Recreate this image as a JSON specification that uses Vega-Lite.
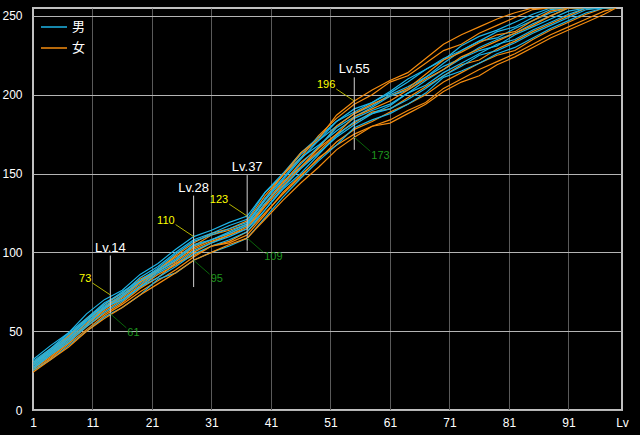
{
"$schema": "https://vega.github.io/schema/vega-lite/v6.json",
"width": 589, "height": 402,
"autosize": {"type": "none"},
"padding": {"left": 33, "top": 8, "right": 18, "bottom": 25},
"background": "#000000",
"config": {"view": {"stroke": "#c0c0c0", "strokeWidth": 2}},
"datasets": {
"ann": [
{"lv":14,"lo":50,"hi":98,"max":73,"min":61,"name":"Lv.14"},
{"lv":28,"lo":78,"hi":136,"max":110,"min":95,"name":"Lv.28"},
{"lv":37,"lo":101,"hi":149,"max":123,"min":109,"name":"Lv.37"},
{"lv":55,"lo":165,"hi":211,"max":196,"min":173,"name":"Lv.55"}
],
"lines": [
{"g":"男","s":"c1","lv":1,"v":32},{"g":"男","s":"c1","lv":4,"v":41},{"g":"男","s":"c1","lv":7,"v":49},{"g":"男","s":"c1","lv":10,"v":61},{"g":"男","s":"c1","lv":13,"v":70},{"g":"男","s":"c1","lv":16,"v":76},{"g":"男","s":"c1","lv":19,"v":86},{"g":"男","s":"c1","lv":22,"v":93},{"g":"男","s":"c1","lv":25,"v":102},{"g":"男","s":"c1","lv":28,"v":110},{"g":"男","s":"c1","lv":31,"v":114},{"g":"男","s":"c1","lv":34,"v":119},{"g":"男","s":"c1","lv":37,"v":123},{"g":"男","s":"c1","lv":40,"v":138},{"g":"男","s":"c1","lv":43,"v":149},{"g":"男","s":"c1","lv":46,"v":162},{"g":"男","s":"c1","lv":49,"v":171},{"g":"男","s":"c1","lv":52,"v":180},{"g":"男","s":"c1","lv":55,"v":188},{"g":"男","s":"c1","lv":58,"v":193},{"g":"男","s":"c1","lv":61,"v":200},{"g":"男","s":"c1","lv":64,"v":205},{"g":"男","s":"c1","lv":67,"v":211},{"g":"男","s":"c1","lv":70,"v":220},{"g":"男","s":"c1","lv":73,"v":228},{"g":"男","s":"c1","lv":76,"v":234},{"g":"男","s":"c1","lv":79,"v":236},{"g":"男","s":"c1","lv":82,"v":242},{"g":"男","s":"c1","lv":85,"v":247},{"g":"男","s":"c1","lv":88,"v":252},{"g":"男","s":"c1","lv":91,"v":255},{"g":"男","s":"c1","lv":99,"v":255},
{"g":"女","s":"o1","lv":1,"v":30},{"g":"女","s":"o1","lv":4,"v":39},{"g":"女","s":"o1","lv":7,"v":47},{"g":"女","s":"o1","lv":10,"v":58},{"g":"女","s":"o1","lv":13,"v":67},{"g":"女","s":"o1","lv":16,"v":74},{"g":"女","s":"o1","lv":19,"v":83},{"g":"女","s":"o1","lv":22,"v":89},{"g":"女","s":"o1","lv":25,"v":98},{"g":"女","s":"o1","lv":28,"v":106},{"g":"女","s":"o1","lv":31,"v":112},{"g":"女","s":"o1","lv":34,"v":115},{"g":"女","s":"o1","lv":37,"v":120},{"g":"女","s":"o1","lv":40,"v":136},{"g":"女","s":"o1","lv":43,"v":149},{"g":"女","s":"o1","lv":46,"v":160},{"g":"女","s":"o1","lv":49,"v":174},{"g":"女","s":"o1","lv":52,"v":185},{"g":"女","s":"o1","lv":55,"v":194},{"g":"女","s":"o1","lv":58,"v":200},{"g":"女","s":"o1","lv":61,"v":208},{"g":"女","s":"o1","lv":64,"v":212},{"g":"女","s":"o1","lv":67,"v":220},{"g":"女","s":"o1","lv":70,"v":228},{"g":"女","s":"o1","lv":73,"v":232},{"g":"女","s":"o1","lv":76,"v":239},{"g":"女","s":"o1","lv":79,"v":244},{"g":"女","s":"o1","lv":82,"v":249},{"g":"女","s":"o1","lv":85,"v":254},{"g":"女","s":"o1","lv":88,"v":255},{"g":"女","s":"o1","lv":99,"v":255},
{"g":"男","s":"c2","lv":1,"v":31},{"g":"男","s":"c2","lv":4,"v":39},{"g":"男","s":"c2","lv":7,"v":49},{"g":"男","s":"c2","lv":10,"v":58},{"g":"男","s":"c2","lv":13,"v":68},{"g":"男","s":"c2","lv":16,"v":74},{"g":"男","s":"c2","lv":19,"v":84},{"g":"男","s":"c2","lv":22,"v":91},{"g":"男","s":"c2","lv":25,"v":100},{"g":"男","s":"c2","lv":28,"v":108},{"g":"男","s":"c2","lv":31,"v":112},{"g":"男","s":"c2","lv":34,"v":117},{"g":"男","s":"c2","lv":37,"v":121},{"g":"男","s":"c2","lv":40,"v":138},{"g":"男","s":"c2","lv":43,"v":150},{"g":"男","s":"c2","lv":46,"v":163},{"g":"男","s":"c2","lv":49,"v":173},{"g":"男","s":"c2","lv":52,"v":183},{"g":"男","s":"c2","lv":55,"v":191},{"g":"男","s":"c2","lv":58,"v":195},{"g":"男","s":"c2","lv":61,"v":202},{"g":"男","s":"c2","lv":64,"v":210},{"g":"男","s":"c2","lv":67,"v":216},{"g":"男","s":"c2","lv":70,"v":222},{"g":"男","s":"c2","lv":73,"v":231},{"g":"男","s":"c2","lv":76,"v":237},{"g":"男","s":"c2","lv":79,"v":241},{"g":"男","s":"c2","lv":82,"v":246},{"g":"男","s":"c2","lv":85,"v":251},{"g":"男","s":"c2","lv":88,"v":255},{"g":"男","s":"c2","lv":99,"v":255},
{"g":"女","s":"o2","lv":1,"v":30},{"g":"女","s":"o2","lv":4,"v":37},{"g":"女","s":"o2","lv":7,"v":47},{"g":"女","s":"o2","lv":10,"v":57},{"g":"女","s":"o2","lv":13,"v":65},{"g":"女","s":"o2","lv":16,"v":73},{"g":"女","s":"o2","lv":19,"v":81},{"g":"女","s":"o2","lv":22,"v":89},{"g":"女","s":"o2","lv":25,"v":97},{"g":"女","s":"o2","lv":28,"v":104},{"g":"女","s":"o2","lv":31,"v":111},{"g":"女","s":"o2","lv":34,"v":114},{"g":"女","s":"o2","lv":37,"v":118},{"g":"女","s":"o2","lv":40,"v":134},{"g":"女","s":"o2","lv":43,"v":149},{"g":"女","s":"o2","lv":46,"v":163},{"g":"女","s":"o2","lv":49,"v":172},{"g":"女","s":"o2","lv":52,"v":187},{"g":"女","s":"o2","lv":55,"v":196},{"g":"女","s":"o2","lv":58,"v":203},{"g":"女","s":"o2","lv":61,"v":209},{"g":"女","s":"o2","lv":64,"v":214},{"g":"女","s":"o2","lv":67,"v":223},{"g":"女","s":"o2","lv":70,"v":232},{"g":"女","s":"o2","lv":73,"v":238},{"g":"女","s":"o2","lv":76,"v":243},{"g":"女","s":"o2","lv":79,"v":248},{"g":"女","s":"o2","lv":82,"v":252},{"g":"女","s":"o2","lv":85,"v":255},{"g":"女","s":"o2","lv":99,"v":255},
{"g":"男","s":"c3","lv":1,"v":30},{"g":"男","s":"c3","lv":4,"v":38},{"g":"男","s":"c3","lv":7,"v":48},{"g":"男","s":"c3","lv":10,"v":57},{"g":"男","s":"c3","lv":13,"v":67},{"g":"男","s":"c3","lv":16,"v":75},{"g":"男","s":"c3","lv":19,"v":82},{"g":"男","s":"c3","lv":22,"v":90},{"g":"男","s":"c3","lv":25,"v":99},{"g":"男","s":"c3","lv":28,"v":107},{"g":"男","s":"c3","lv":31,"v":111},{"g":"男","s":"c3","lv":34,"v":115},{"g":"男","s":"c3","lv":37,"v":119},{"g":"男","s":"c3","lv":40,"v":134},{"g":"男","s":"c3","lv":43,"v":147},{"g":"男","s":"c3","lv":46,"v":160},{"g":"男","s":"c3","lv":49,"v":168},{"g":"男","s":"c3","lv":52,"v":177},{"g":"男","s":"c3","lv":55,"v":185},{"g":"男","s":"c3","lv":58,"v":190},{"g":"男","s":"c3","lv":61,"v":194},{"g":"男","s":"c3","lv":64,"v":201},{"g":"男","s":"c3","lv":67,"v":209},{"g":"男","s":"c3","lv":70,"v":216},{"g":"男","s":"c3","lv":73,"v":223},{"g":"男","s":"c3","lv":76,"v":228},{"g":"男","s":"c3","lv":79,"v":231},{"g":"男","s":"c3","lv":82,"v":238},{"g":"男","s":"c3","lv":85,"v":243},{"g":"男","s":"c3","lv":88,"v":248},{"g":"男","s":"c3","lv":91,"v":253},{"g":"男","s":"c3","lv":94,"v":255},{"g":"男","s":"c3","lv":99,"v":255},
{"g":"女","s":"o3","lv":1,"v":29},{"g":"女","s":"o3","lv":4,"v":37},{"g":"女","s":"o3","lv":7,"v":46},{"g":"女","s":"o3","lv":10,"v":55},{"g":"女","s":"o3","lv":13,"v":65},{"g":"女","s":"o3","lv":16,"v":72},{"g":"女","s":"o3","lv":19,"v":81},{"g":"女","s":"o3","lv":22,"v":88},{"g":"女","s":"o3","lv":25,"v":95},{"g":"女","s":"o3","lv":28,"v":103},{"g":"女","s":"o3","lv":31,"v":108},{"g":"女","s":"o3","lv":34,"v":112},{"g":"女","s":"o3","lv":37,"v":117},{"g":"女","s":"o3","lv":40,"v":131},{"g":"女","s":"o3","lv":43,"v":145},{"g":"女","s":"o3","lv":46,"v":154},{"g":"女","s":"o3","lv":49,"v":164},{"g":"女","s":"o3","lv":52,"v":175},{"g":"女","s":"o3","lv":55,"v":182},{"g":"女","s":"o3","lv":58,"v":189},{"g":"女","s":"o3","lv":61,"v":191},{"g":"女","s":"o3","lv":64,"v":198},{"g":"女","s":"o3","lv":67,"v":205},{"g":"女","s":"o3","lv":70,"v":212},{"g":"女","s":"o3","lv":73,"v":219},{"g":"女","s":"o3","lv":76,"v":222},{"g":"女","s":"o3","lv":79,"v":229},{"g":"女","s":"o3","lv":82,"v":234},{"g":"女","s":"o3","lv":85,"v":240},{"g":"女","s":"o3","lv":88,"v":245},{"g":"女","s":"o3","lv":91,"v":250},{"g":"女","s":"o3","lv":94,"v":255},{"g":"女","s":"o3","lv":99,"v":255},
{"g":"男","s":"c4","lv":1,"v":29},{"g":"男","s":"c4","lv":4,"v":38},{"g":"男","s":"c4","lv":7,"v":46},{"g":"男","s":"c4","lv":10,"v":57},{"g":"男","s":"c4","lv":13,"v":66},{"g":"男","s":"c4","lv":16,"v":73},{"g":"男","s":"c4","lv":19,"v":82},{"g":"男","s":"c4","lv":22,"v":89},{"g":"男","s":"c4","lv":25,"v":96},{"g":"男","s":"c4","lv":28,"v":105},{"g":"男","s":"c4","lv":31,"v":108},{"g":"男","s":"c4","lv":34,"v":113},{"g":"男","s":"c4","lv":37,"v":118},{"g":"男","s":"c4","lv":40,"v":133},{"g":"男","s":"c4","lv":43,"v":146},{"g":"男","s":"c4","lv":46,"v":159},{"g":"男","s":"c4","lv":49,"v":171},{"g":"男","s":"c4","lv":52,"v":183},{"g":"男","s":"c4","lv":55,"v":189},{"g":"男","s":"c4","lv":58,"v":195},{"g":"男","s":"c4","lv":61,"v":201},{"g":"男","s":"c4","lv":64,"v":208},{"g":"男","s":"c4","lv":67,"v":216},{"g":"男","s":"c4","lv":70,"v":223},{"g":"男","s":"c4","lv":73,"v":228},{"g":"男","s":"c4","lv":76,"v":234},{"g":"男","s":"c4","lv":79,"v":240},{"g":"男","s":"c4","lv":82,"v":243},{"g":"男","s":"c4","lv":85,"v":249},{"g":"男","s":"c4","lv":88,"v":254},{"g":"男","s":"c4","lv":91,"v":255},{"g":"男","s":"c4","lv":99,"v":255},
{"g":"女","s":"o4","lv":1,"v":28},{"g":"女","s":"o4","lv":4,"v":36},{"g":"女","s":"o4","lv":7,"v":45},{"g":"女","s":"o4","lv":10,"v":54},{"g":"女","s":"o4","lv":13,"v":64},{"g":"女","s":"o4","lv":16,"v":71},{"g":"女","s":"o4","lv":19,"v":79},{"g":"女","s":"o4","lv":22,"v":88},{"g":"女","s":"o4","lv":25,"v":94},{"g":"女","s":"o4","lv":28,"v":102},{"g":"女","s":"o4","lv":31,"v":107},{"g":"女","s":"o4","lv":34,"v":111},{"g":"女","s":"o4","lv":37,"v":116},{"g":"女","s":"o4","lv":40,"v":130},{"g":"女","s":"o4","lv":43,"v":144},{"g":"女","s":"o4","lv":46,"v":157},{"g":"女","s":"o4","lv":49,"v":166},{"g":"女","s":"o4","lv":52,"v":180},{"g":"女","s":"o4","lv":55,"v":188},{"g":"女","s":"o4","lv":58,"v":194},{"g":"女","s":"o4","lv":61,"v":199},{"g":"女","s":"o4","lv":64,"v":204},{"g":"女","s":"o4","lv":67,"v":213},{"g":"女","s":"o4","lv":70,"v":222},{"g":"女","s":"o4","lv":73,"v":227},{"g":"女","s":"o4","lv":76,"v":233},{"g":"女","s":"o4","lv":79,"v":238},{"g":"女","s":"o4","lv":82,"v":240},{"g":"女","s":"o4","lv":85,"v":247},{"g":"女","s":"o4","lv":88,"v":253},{"g":"女","s":"o4","lv":91,"v":255},{"g":"女","s":"o4","lv":99,"v":255},
{"g":"男","s":"c5","lv":1,"v":28},{"g":"男","s":"c5","lv":4,"v":37},{"g":"男","s":"c5","lv":7,"v":45},{"g":"男","s":"c5","lv":10,"v":56},{"g":"男","s":"c5","lv":13,"v":64},{"g":"男","s":"c5","lv":16,"v":72},{"g":"男","s":"c5","lv":19,"v":80},{"g":"男","s":"c5","lv":22,"v":88},{"g":"男","s":"c5","lv":25,"v":95},{"g":"男","s":"c5","lv":28,"v":104},{"g":"男","s":"c5","lv":31,"v":108},{"g":"男","s":"c5","lv":34,"v":112},{"g":"男","s":"c5","lv":37,"v":117},{"g":"男","s":"c5","lv":40,"v":131},{"g":"男","s":"c5","lv":43,"v":143},{"g":"男","s":"c5","lv":46,"v":156},{"g":"男","s":"c5","lv":49,"v":167},{"g":"男","s":"c5","lv":52,"v":179},{"g":"男","s":"c5","lv":55,"v":186},{"g":"男","s":"c5","lv":58,"v":192},{"g":"男","s":"c5","lv":61,"v":199},{"g":"男","s":"c5","lv":64,"v":203},{"g":"男","s":"c5","lv":67,"v":211},{"g":"男","s":"c5","lv":70,"v":218},{"g":"男","s":"c5","lv":73,"v":223},{"g":"男","s":"c5","lv":76,"v":230},{"g":"男","s":"c5","lv":79,"v":235},{"g":"男","s":"c5","lv":82,"v":239},{"g":"男","s":"c5","lv":85,"v":245},{"g":"男","s":"c5","lv":88,"v":250},{"g":"男","s":"c5","lv":91,"v":255},{"g":"男","s":"c5","lv":99,"v":255},
{"g":"女","s":"o5","lv":1,"v":27},{"g":"女","s":"o5","lv":4,"v":35},{"g":"女","s":"o5","lv":7,"v":44},{"g":"女","s":"o5","lv":10,"v":54},{"g":"女","s":"o5","lv":13,"v":63},{"g":"女","s":"o5","lv":16,"v":70},{"g":"女","s":"o5","lv":19,"v":78},{"g":"女","s":"o5","lv":22,"v":86},{"g":"女","s":"o5","lv":25,"v":92},{"g":"女","s":"o5","lv":28,"v":100},{"g":"女","s":"o5","lv":31,"v":106},{"g":"女","s":"o5","lv":34,"v":111},{"g":"女","s":"o5","lv":37,"v":115},{"g":"女","s":"o5","lv":40,"v":129},{"g":"女","s":"o5","lv":43,"v":142},{"g":"女","s":"o5","lv":46,"v":154},{"g":"女","s":"o5","lv":49,"v":166},{"g":"女","s":"o5","lv":52,"v":175},{"g":"女","s":"o5","lv":55,"v":186},{"g":"女","s":"o5","lv":58,"v":191},{"g":"女","s":"o5","lv":61,"v":196},{"g":"女","s":"o5","lv":64,"v":203},{"g":"女","s":"o5","lv":67,"v":210},{"g":"女","s":"o5","lv":70,"v":216},{"g":"女","s":"o5","lv":73,"v":224},{"g":"女","s":"o5","lv":76,"v":229},{"g":"女","s":"o5","lv":79,"v":234},{"g":"女","s":"o5","lv":82,"v":239},{"g":"女","s":"o5","lv":85,"v":244},{"g":"女","s":"o5","lv":88,"v":250},{"g":"女","s":"o5","lv":91,"v":255},{"g":"女","s":"o5","lv":99,"v":255},
{"g":"男","s":"c6","lv":1,"v":27},{"g":"男","s":"c6","lv":4,"v":36},{"g":"男","s":"c6","lv":7,"v":44},{"g":"男","s":"c6","lv":10,"v":54},{"g":"男","s":"c6","lv":13,"v":65},{"g":"男","s":"c6","lv":16,"v":70},{"g":"男","s":"c6","lv":19,"v":78},{"g":"男","s":"c6","lv":22,"v":87},{"g":"男","s":"c6","lv":25,"v":93},{"g":"男","s":"c6","lv":28,"v":101},{"g":"男","s":"c6","lv":31,"v":106},{"g":"男","s":"c6","lv":34,"v":110},{"g":"男","s":"c6","lv":37,"v":115},{"g":"男","s":"c6","lv":40,"v":127},{"g":"男","s":"c6","lv":43,"v":141},{"g":"男","s":"c6","lv":46,"v":153},{"g":"男","s":"c6","lv":49,"v":163},{"g":"男","s":"c6","lv":52,"v":173},{"g":"男","s":"c6","lv":55,"v":181},{"g":"男","s":"c6","lv":58,"v":188},{"g":"男","s":"c6","lv":61,"v":191},{"g":"男","s":"c6","lv":64,"v":197},{"g":"男","s":"c6","lv":67,"v":204},{"g":"男","s":"c6","lv":70,"v":212},{"g":"男","s":"c6","lv":73,"v":218},{"g":"男","s":"c6","lv":76,"v":225},{"g":"男","s":"c6","lv":79,"v":228},{"g":"男","s":"c6","lv":82,"v":233},{"g":"男","s":"c6","lv":85,"v":239},{"g":"男","s":"c6","lv":88,"v":244},{"g":"男","s":"c6","lv":91,"v":249},{"g":"男","s":"c6","lv":94,"v":254},{"g":"男","s":"c6","lv":97,"v":255},{"g":"男","s":"c6","lv":99,"v":255},
{"g":"女","s":"o6","lv":1,"v":26},{"g":"女","s":"o6","lv":4,"v":34},{"g":"女","s":"o6","lv":7,"v":43},{"g":"女","s":"o6","lv":10,"v":53},{"g":"女","s":"o6","lv":13,"v":61},{"g":"女","s":"o6","lv":16,"v":68},{"g":"女","s":"o6","lv":19,"v":77},{"g":"女","s":"o6","lv":22,"v":84},{"g":"女","s":"o6","lv":25,"v":93},{"g":"女","s":"o6","lv":28,"v":98},{"g":"女","s":"o6","lv":31,"v":104},{"g":"女","s":"o6","lv":34,"v":107},{"g":"女","s":"o6","lv":37,"v":113},{"g":"女","s":"o6","lv":40,"v":125},{"g":"女","s":"o6","lv":43,"v":137},{"g":"女","s":"o6","lv":46,"v":148},{"g":"女","s":"o6","lv":49,"v":160},{"g":"女","s":"o6","lv":52,"v":168},{"g":"女","s":"o6","lv":55,"v":175},{"g":"女","s":"o6","lv":58,"v":180},{"g":"女","s":"o6","lv":61,"v":184},{"g":"女","s":"o6","lv":64,"v":190},{"g":"女","s":"o6","lv":67,"v":195},{"g":"女","s":"o6","lv":70,"v":204},{"g":"女","s":"o6","lv":73,"v":210},{"g":"女","s":"o6","lv":76,"v":216},{"g":"女","s":"o6","lv":79,"v":221},{"g":"女","s":"o6","lv":82,"v":226},{"g":"女","s":"o6","lv":85,"v":232},{"g":"女","s":"o6","lv":88,"v":238},{"g":"女","s":"o6","lv":91,"v":243},{"g":"女","s":"o6","lv":94,"v":248},{"g":"女","s":"o6","lv":97,"v":253},{"g":"女","s":"o6","lv":99,"v":255},
{"g":"男","s":"c7","lv":1,"v":26},{"g":"男","s":"c7","lv":4,"v":35},{"g":"男","s":"c7","lv":7,"v":43},{"g":"男","s":"c7","lv":10,"v":53},{"g":"男","s":"c7","lv":13,"v":62},{"g":"男","s":"c7","lv":16,"v":69},{"g":"男","s":"c7","lv":19,"v":78},{"g":"男","s":"c7","lv":22,"v":84},{"g":"男","s":"c7","lv":25,"v":91},{"g":"男","s":"c7","lv":28,"v":99},{"g":"男","s":"c7","lv":31,"v":104},{"g":"男","s":"c7","lv":34,"v":108},{"g":"男","s":"c7","lv":37,"v":113},{"g":"男","s":"c7","lv":40,"v":127},{"g":"男","s":"c7","lv":43,"v":140},{"g":"男","s":"c7","lv":46,"v":150},{"g":"男","s":"c7","lv":49,"v":162},{"g":"男","s":"c7","lv":52,"v":174},{"g":"男","s":"c7","lv":55,"v":183},{"g":"男","s":"c7","lv":58,"v":188},{"g":"男","s":"c7","lv":61,"v":193},{"g":"男","s":"c7","lv":64,"v":201},{"g":"男","s":"c7","lv":67,"v":206},{"g":"男","s":"c7","lv":70,"v":214},{"g":"男","s":"c7","lv":73,"v":220},{"g":"男","s":"c7","lv":76,"v":226},{"g":"男","s":"c7","lv":79,"v":232},{"g":"男","s":"c7","lv":82,"v":235},{"g":"男","s":"c7","lv":85,"v":241},{"g":"男","s":"c7","lv":88,"v":246},{"g":"男","s":"c7","lv":91,"v":251},{"g":"男","s":"c7","lv":94,"v":255},{"g":"男","s":"c7","lv":99,"v":255},
{"g":"女","s":"o7","lv":1,"v":25},{"g":"女","s":"o7","lv":4,"v":33},{"g":"女","s":"o7","lv":7,"v":42},{"g":"女","s":"o7","lv":10,"v":51},{"g":"女","s":"o7","lv":13,"v":60},{"g":"女","s":"o7","lv":16,"v":67},{"g":"女","s":"o7","lv":19,"v":75},{"g":"女","s":"o7","lv":22,"v":82},{"g":"女","s":"o7","lv":25,"v":89},{"g":"女","s":"o7","lv":28,"v":97},{"g":"女","s":"o7","lv":31,"v":104},{"g":"女","s":"o7","lv":34,"v":106},{"g":"女","s":"o7","lv":37,"v":111},{"g":"女","s":"o7","lv":40,"v":124},{"g":"女","s":"o7","lv":43,"v":138},{"g":"女","s":"o7","lv":46,"v":149},{"g":"女","s":"o7","lv":49,"v":159},{"g":"女","s":"o7","lv":52,"v":170},{"g":"女","s":"o7","lv":55,"v":178},{"g":"女","s":"o7","lv":58,"v":183},{"g":"女","s":"o7","lv":61,"v":189},{"g":"女","s":"o7","lv":64,"v":194},{"g":"女","s":"o7","lv":67,"v":200},{"g":"女","s":"o7","lv":70,"v":208},{"g":"女","s":"o7","lv":73,"v":214},{"g":"女","s":"o7","lv":76,"v":220},{"g":"女","s":"o7","lv":79,"v":225},{"g":"女","s":"o7","lv":82,"v":228},{"g":"女","s":"o7","lv":85,"v":235},{"g":"女","s":"o7","lv":88,"v":241},{"g":"女","s":"o7","lv":91,"v":246},{"g":"女","s":"o7","lv":94,"v":251},{"g":"女","s":"o7","lv":97,"v":255},{"g":"女","s":"o7","lv":99,"v":255},
{"g":"男","s":"c8","lv":1,"v":25},{"g":"男","s":"c8","lv":4,"v":32},{"g":"男","s":"c8","lv":7,"v":41},{"g":"男","s":"c8","lv":10,"v":50},{"g":"男","s":"c8","lv":13,"v":59},{"g":"男","s":"c8","lv":16,"v":65},{"g":"男","s":"c8","lv":19,"v":73},{"g":"男","s":"c8","lv":22,"v":83},{"g":"男","s":"c8","lv":25,"v":87},{"g":"男","s":"c8","lv":28,"v":95},{"g":"男","s":"c8","lv":31,"v":100},{"g":"男","s":"c8","lv":34,"v":104},{"g":"男","s":"c8","lv":37,"v":109},{"g":"男","s":"c8","lv":40,"v":122},{"g":"男","s":"c8","lv":43,"v":135},{"g":"男","s":"c8","lv":46,"v":147},{"g":"男","s":"c8","lv":49,"v":158},{"g":"男","s":"c8","lv":52,"v":168},{"g":"男","s":"c8","lv":55,"v":179},{"g":"男","s":"c8","lv":58,"v":184},{"g":"男","s":"c8","lv":61,"v":188},{"g":"男","s":"c8","lv":64,"v":194},{"g":"男","s":"c8","lv":67,"v":201},{"g":"男","s":"c8","lv":70,"v":211},{"g":"男","s":"c8","lv":73,"v":215},{"g":"男","s":"c8","lv":76,"v":220},{"g":"男","s":"c8","lv":79,"v":226},{"g":"男","s":"c8","lv":82,"v":230},{"g":"男","s":"c8","lv":85,"v":236},{"g":"男","s":"c8","lv":88,"v":242},{"g":"男","s":"c8","lv":91,"v":247},{"g":"男","s":"c8","lv":94,"v":252},{"g":"男","s":"c8","lv":97,"v":255},{"g":"男","s":"c8","lv":99,"v":255},
{"g":"女","s":"o8","lv":1,"v":24},{"g":"女","s":"o8","lv":4,"v":32},{"g":"女","s":"o8","lv":7,"v":40},{"g":"女","s":"o8","lv":10,"v":50},{"g":"女","s":"o8","lv":13,"v":58},{"g":"女","s":"o8","lv":16,"v":65},{"g":"女","s":"o8","lv":19,"v":73},{"g":"女","s":"o8","lv":22,"v":80},{"g":"女","s":"o8","lv":25,"v":87},{"g":"女","s":"o8","lv":28,"v":95},{"g":"女","s":"o8","lv":31,"v":100},{"g":"女","s":"o8","lv":34,"v":105},{"g":"女","s":"o8","lv":37,"v":109},{"g":"女","s":"o8","lv":40,"v":121},{"g":"女","s":"o8","lv":43,"v":133},{"g":"女","s":"o8","lv":46,"v":144},{"g":"女","s":"o8","lv":49,"v":154},{"g":"女","s":"o8","lv":52,"v":165},{"g":"女","s":"o8","lv":55,"v":173},{"g":"女","s":"o8","lv":58,"v":180},{"g":"女","s":"o8","lv":61,"v":182},{"g":"女","s":"o8","lv":64,"v":188},{"g":"女","s":"o8","lv":67,"v":194},{"g":"女","s":"o8","lv":70,"v":202},{"g":"女","s":"o8","lv":73,"v":208},{"g":"女","s":"o8","lv":76,"v":212},{"g":"女","s":"o8","lv":79,"v":219},{"g":"女","s":"o8","lv":82,"v":224},{"g":"女","s":"o8","lv":85,"v":230},{"g":"女","s":"o8","lv":88,"v":236},{"g":"女","s":"o8","lv":91,"v":241},{"g":"女","s":"o8","lv":94,"v":246},{"g":"女","s":"o8","lv":97,"v":251},{"g":"女","s":"o8","lv":99,"v":255}
]
},
"layer": [
{"data": {"name": "lines"},
 "mark": {"type": "line", "strokeWidth": 1.2, "clip": true},
 "encoding": {
  "x": {"field": "lv", "type": "quantitative", "title": null,
        "scale": {"domain": [1, 100], "nice": false, "zero": false},
        "axis": {"values": [1, 11, 21, 31, 41, 51, 61, 71, 81, 91, 100],
                 "labelExpr": "datum.value == 100 ? 'Lv' : datum.label",
                 "domain": false, "ticks": false, "tickSize": 0, "labelPadding": 7,
                 "labelColor": "#ffffff", "labelFont": "Liberation Sans", "labelFontSize": 12, "labelFlush": false,
                 "gridColor": "#5a5a5a", "gridWidth": 1,
                 "gridOpacity": {"condition": {"test": "datum.value == 1 || datum.value == 100", "value": 0}, "value": 1}}},
  "y": {"field": "v", "type": "quantitative", "title": null,
        "scale": {"domain": [0, 255], "nice": false},
        "axis": {"values": [0, 50, 100, 150, 200, 250],
                 "domain": false, "ticks": false, "tickSize": 0, "labelPadding": 11,
                 "labelColor": "#ffffff", "labelFont": "Liberation Sans", "labelFontSize": 12, "labelFlush": false,
                 "gridColor": "#b4b4b4", "gridWidth": 1}},
  "color": {"field": "g", "type": "nominal",
            "scale": {"domain": ["男", "女"], "range": ["#1eb4e6", "#f58c0f"]},
            "legend": {"title": null, "orient": "none", "legendX": 7, "legendY": 5, "padding": 0,
                       "symbolType": "stroke", "symbolSize": 676, "symbolStrokeWidth": 1.5,
                       "labelColor": "#ffffff", "labelFont": "Noto Sans CJK JP", "labelFontSize": 13,
                       "labelOffset": 4, "rowPadding": -6}},
  "detail": {"field": "s"}
 }},
{"data": {"name": "ann"},
 "mark": {"type": "rule", "color": "#d0d0d0", "strokeWidth": 1},
 "encoding": {"x": {"field": "lv", "type": "quantitative", "title": null},
              "y": {"field": "lo", "type": "quantitative", "title": null},
              "y2": {"field": "hi"}}},
{"data": {"name": "ann"},
 "mark": {"type": "text", "color": "#ffffff", "font": "Liberation Sans", "fontSize": 13, "align": "center", "baseline": "alphabetic", "dy": -4},
 "encoding": {"x": {"field": "lv", "type": "quantitative", "title": null},
              "y": {"field": "hi", "type": "quantitative", "title": null},
              "text": {"field": "name"}}},
{"data": {"name": "ann"},
 "mark": {"type": "rule", "color": "#b4b400", "strokeWidth": 1, "x2Offset": -18, "y2Offset": -12},
 "encoding": {"x": {"field": "lv", "type": "quantitative", "title": null},
              "y": {"field": "max", "type": "quantitative", "title": null},
              "x2": {"field": "lv"}, "y2": {"field": "max"}}},
{"data": {"name": "ann"},
 "mark": {"type": "text", "color": "#ffff00", "font": "Liberation Sans", "fontSize": 11, "align": "right", "baseline": "middle", "dx": -19, "dy": -16},
 "encoding": {"x": {"field": "lv", "type": "quantitative", "title": null},
              "y": {"field": "max", "type": "quantitative", "title": null},
              "text": {"field": "max"}}},
{"data": {"name": "ann"},
 "mark": {"type": "rule", "color": "#0a640a", "strokeWidth": 1, "x2Offset": 16, "y2Offset": 14},
 "encoding": {"x": {"field": "lv", "type": "quantitative", "title": null},
              "y": {"field": "min", "type": "quantitative", "title": null},
              "x2": {"field": "lv"}, "y2": {"field": "min"}}},
{"data": {"name": "ann"},
 "mark": {"type": "text", "color": "#1e961e", "font": "Liberation Sans", "fontSize": 11, "align": "left", "baseline": "middle", "dx": 17, "dy": 19},
 "encoding": {"x": {"field": "lv", "type": "quantitative", "title": null},
              "y": {"field": "min", "type": "quantitative", "title": null},
              "text": {"field": "min"}}}
]
}
